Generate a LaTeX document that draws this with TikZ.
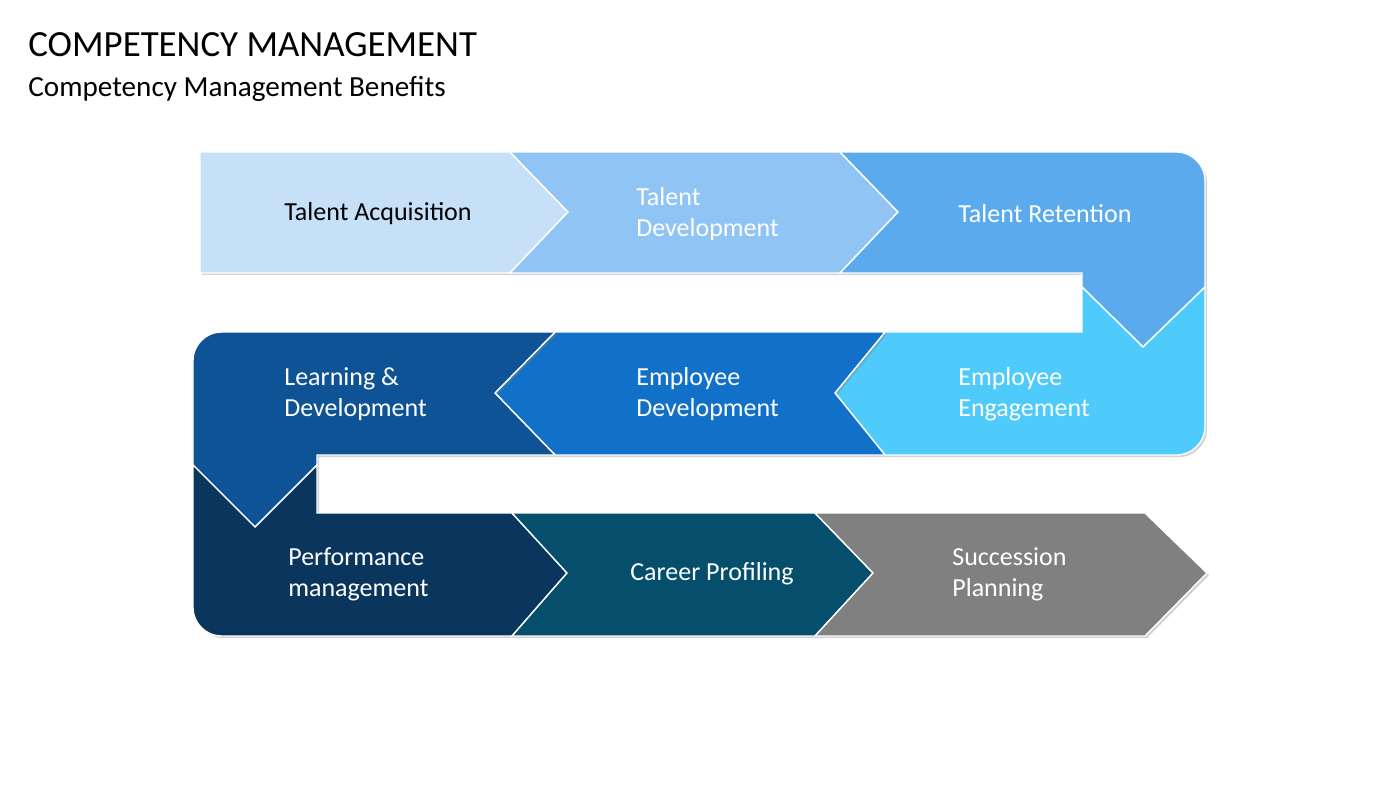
\documentclass[tikz,border=0pt]{standalone}
\usepackage{fontspec}
\setmainfont{Carlito}
\usepackage{xcolor}
\usetikzlibrary{shadows}

\definecolor{acqblue}{HTML}{C6E1F7}
\definecolor{devblue}{HTML}{90C4F5}
\definecolor{retblue}{HTML}{5BAAEE}
\definecolor{engblue}{HTML}{4ECBFB}
\definecolor{empblue}{HTML}{1170C8}
\definecolor{lndblue}{HTML}{0E5396}
\definecolor{perfblue}{HTML}{0A365E}
\definecolor{careerteal}{HTML}{054E6C}
\definecolor{succgray}{HTML}{808080}

\begin{document}
\begin{tikzpicture}[x=0.02cm, y=-0.02cm,
    seg/.style={fill=#1, draw=white, line width=0.8pt,
        drop shadow={shadow xshift=1.2pt, shadow yshift=-1.2pt, opacity=0.35}},
    lbl/.style={anchor=west, align=left, inner sep=0pt, text=white,
        font=\fontsize{14.8}{17.6}\selectfont}]
\useasboundingbox (0,0) rectangle (1400,788);

% Headings
\node[anchor=base west, inner sep=0pt, font=\fontsize{21}{25}\selectfont] (title) at (28,56) {COMPETENCY MANAGEMENT};
\node[anchor=base west, inner sep=0pt, font=\fontsize{16.6}{20}\selectfont] (subtitle) at (28,96) {Competency Management Benefits};

% First row, left to right
\path[seg=acqblue] (200,152) -- (510,152) -- (568,212) -- (510,273) -- (200,273) -- cycle;
\path[seg=devblue] (510,152) -- (840,152) -- (898,212) -- (840,273) -- (510,273) -- (568,212) -- cycle;
\path[seg=retblue] (840,152) -- (1177,152) .. controls (1192,152) and (1205,165) .. (1205,180) -- (1205,287)
    -- (1143,347) -- (1082,287) -- (1082,273) -- (840,273) -- (898,212) -- cycle;

% Second row, right to left
\path[seg=engblue] (1082,287) -- (1143,347) -- (1205,287) -- (1205,427) .. controls (1205,442) and (1192,455) .. (1177,455)
    -- (885,455) -- (835,393) -- (885,332) -- (1082,332) -- cycle;
\path[seg=empblue] (555,332) -- (885,332) -- (835,393) -- (885,455) -- (555,455) -- (495,393) -- cycle;
\path[seg=lndblue] (221,332) -- (555,332) -- (495,393) -- (555,455) -- (317,455) -- (317,465)
    -- (255,527) -- (193,465) -- (193,360) .. controls (193,345) and (206,332) .. (221,332) -- cycle;

% Third row, left to right
\path[seg=perfblue] (193,465) -- (255,527) -- (317,465) -- (317,513) -- (512,513) -- (567,573)
    -- (512,636) -- (221,636) .. controls (206,636) and (193,623) .. (193,608) -- cycle;
\path[seg=careerteal] (512,513) -- (815,513) -- (873,573) -- (815,636) -- (512,636) -- (567,573) -- cycle;
\path[seg=succgray] (815,513) -- (1145,513) -- (1207,573) -- (1145,636) -- (815,636) -- (873,573) -- cycle;

% Labels
\node[lbl, text=black] (acq) at (284,214) {Talent Acquisition};
\node[lbl] (tdev) at (636,214) {Talent\\Development};
\node[lbl] (ret) at (958,214) {Talent Retention};
\node[lbl] (eng) at (958,394) {Employee\\Engagement};
\node[lbl] (edev) at (636,394) {Employee\\Development};
\node[lbl] (lnd) at (284,394) {Learning \&\\Development};
\node[lbl] (perf) at (288,574) {Performance\\management};
\node[lbl] (career) at (630,574) {Career Profiling};
\node[lbl] (succ) at (952,574) {Succession\\Planning};
\end{tikzpicture}
\end{document}
